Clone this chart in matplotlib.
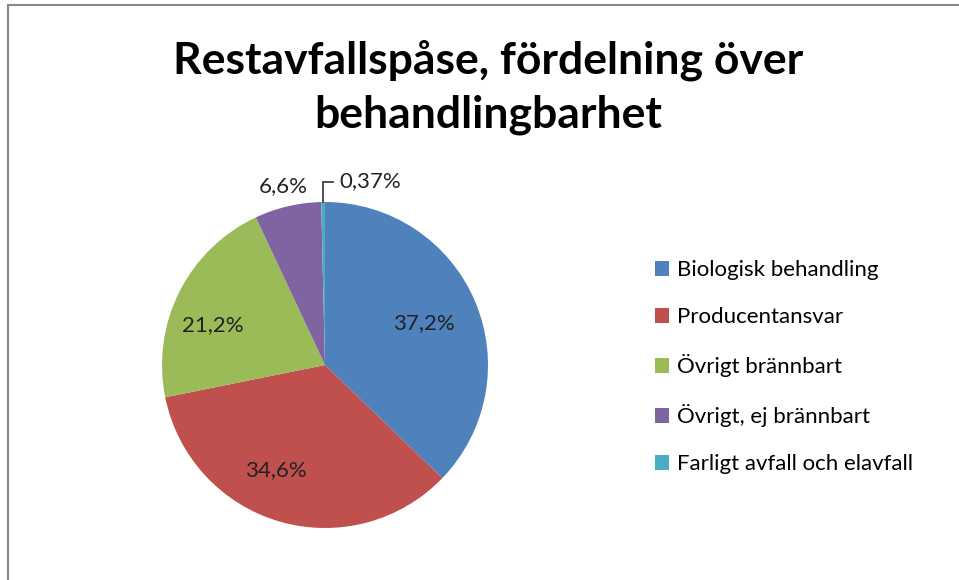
import numpy as np
import matplotlib
matplotlib.use("Agg")
import matplotlib.pyplot as plt
from matplotlib.lines import Line2D

# data
categories = ["Biologisk behandling", "Producentansvar", "Övrigt brännbart",
              "Övrigt, ej brännbart", "Farligt avfall och elavfall"]
shares = [37.2, 34.6, 21.2, 6.6, 0.37]
share_labels = ["37,2%", "34,6%", "21,2%", "6,6%", "0,37%"]
colors = ["#4F81BD", "#C0504D", "#9BBB59", "#8064A2", "#4BACC6"]

# label placement per slice (radius, angle shift in degrees)
label_r = [0.66, 0.71, 0.73, 1.13, 1.0]
label_dtheta = [0, -9, 7, 0, 0]

plt.rcParams['font.family'] = ['Lato', 'DejaVu Sans']

fig = plt.figure(figsize=(9.59, 5.80), dpi=100)
W, H = 959, 580

# pie axes: centre (325, 365) px, radius 163 px
cx, cy, r = 325, 365, 163
ax = fig.add_axes([(cx - r) / W, (H - cy - r) / H, 2 * r / W, 2 * r / H])
wedges, _ = ax.pie(shares, colors=colors, startangle=90, counterclock=False,
                   radius=1.0, wedgeprops=dict(linewidth=0))
ax.set_xlim(-1, 1)
ax.set_ylim(-1, 1)
ax.set_aspect('equal')
ax.axis('off')

for i, w in enumerate(wedges):
    mid = np.deg2rad((w.theta1 + w.theta2) / 2 + label_dtheta[i])
    if i == 4:
        # small slice: label with a leader line
        x0, y0 = np.cos(mid), np.sin(mid)
        ytop = 1.12
        ax.plot([x0, x0, x0 + 0.06], [y0, ytop, ytop], color="#404040",
                lw=1.3, clip_on=False, solid_joinstyle='miter')
        ax.text(x0 + 0.1, ytop + 0.01, share_labels[i], ha='left', va='center',
                fontsize=16, color="#222222")
        continue
    rr = label_r[i]
    ax.text(rr * np.cos(mid), rr * np.sin(mid), share_labels[i],
            ha='center', va='center', fontsize=16, color="#222222")

# title
fig.text(488 / W, 1 - 60 / H, "Restavfallspåse, fördelning över",
         ha='center', va='center', fontsize=32, fontweight='bold')
fig.text(488 / W, 1 - 115 / H, "behandlingbarhet",
         ha='center', va='center', fontsize=32, fontweight='bold')

# legend
fig.legend(wedges, categories, loc='upper left',
           bbox_to_anchor=(655 / W, 1 - 260 / H), frameon=False,
           fontsize=16, handlelength=0.65, handleheight=0.65,
           handletextpad=0.35, labelspacing=1.22, borderpad=0,
           borderaxespad=0)

# chart frame (left and top edges visible)
fig.add_artist(Line2D([8 / W, 8 / W], [0, 1 - 5 / H], transform=fig.transFigure,
                      color="#888888", lw=1.5))
fig.add_artist(Line2D([8 / W, 1], [1 - 5 / H, 1 - 5 / H], transform=fig.transFigure,
                      color="#888888", lw=1.5))

fig.savefig("out.png", dpi=100)
